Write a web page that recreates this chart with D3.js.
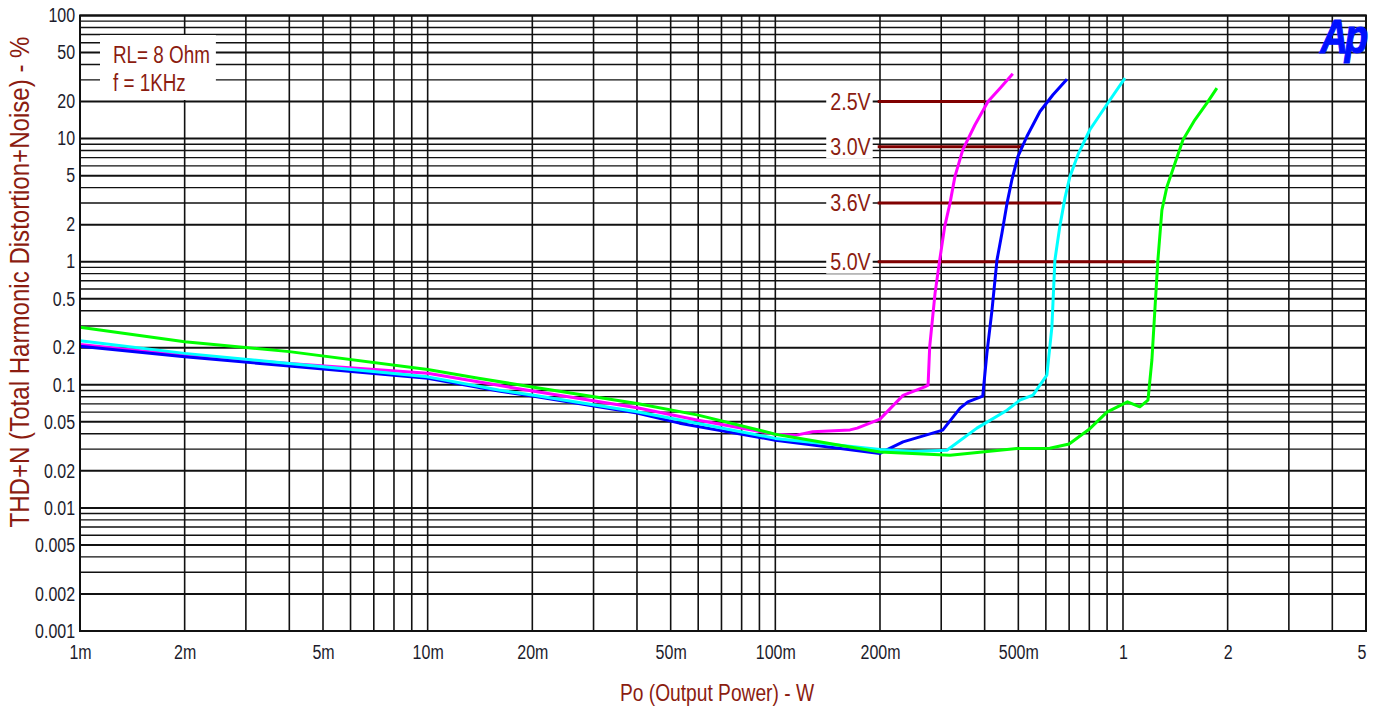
<!DOCTYPE html>
<html>
<head>
<meta charset="utf-8">
<script src="https://cdn.jsdelivr.net/npm/d3@7"></script>
<style>
  body { margin: 0; background: #fff; }
  svg { display: block; font-family: "Liberation Sans", Arial, sans-serif; }
</style>
</head>
<body>
<svg id="chart" width="1378" height="707"></svg>
<script>
// tick labels
const xTickVals = [0.001, 0.002, 0.005, 0.01, 0.02, 0.05, 0.1, 0.2, 0.5, 1, 2, 5];
const xTickLabels = ["1m", "2m", "5m", "10m", "20m", "50m", "100m", "200m", "500m", "1", "2", "5"];
const yTickVals = [100, 50, 20, 10, 5, 2, 1, 0.5, 0.2, 0.1, 0.05, 0.02, 0.01, 0.005, 0.002, 0.001];
const yTickLabels = ["100", "50", "20", "10", "5", "2", "1", "0.5", "0.2", "0.1", "0.05", "0.02", "0.01", "0.005", "0.002", "0.001"];

// supply voltages and their marker lines
const supplyLabels = ["2.5V", "3.0V", "3.6V", "5.0V"];
const supplyColors = ["#ff00ff", "#0000ff", "#00ffff", "#00ff00"];
const markerThd = [20, 8.6, 3, 1];
const markerStart = 0.197;
const markerEnd = [0.401, 0.515, 0.663, 1.235];

// curves (Po in W, THD+N in %)
const po25 = [0.001, 0.002, 0.004, 0.01, 0.016, 0.02, 0.04, 0.06, 0.1, 0.115, 0.128, 0.164, 0.172, 0.2, 0.233, 0.269, 0.275, 0.278, 0.288, 0.297, 0.307, 0.318, 0.3285, 0.346, 0.375, 0.409, 0.443, 0.482];
const thd25 = [0.213, 0.174, 0.149, 0.124, 0.099, 0.089, 0.065, 0.0516, 0.0397, 0.039, 0.0415, 0.043, 0.0445, 0.0526, 0.082, 0.0963, 0.0995, 0.204, 0.553, 1.03, 1.93, 2.99, 4.91, 8.09, 12.9, 20.0, 25.7, 33.6];

const po30 = [0.001, 0.002, 0.004, 0.01, 0.016, 0.02, 0.04, 0.053, 0.1, 0.2, 0.214, 0.233, 0.303, 0.34, 0.358, 0.395, 0.406, 0.42, 0.434, 0.4485, 0.464, 0.479, 0.4985, 0.529, 0.577, 0.629, 0.69];
const thd30 = [0.206, 0.169, 0.142, 0.113, 0.089, 0.081, 0.059, 0.0488, 0.0355, 0.0277, 0.0306, 0.0344, 0.0428, 0.0647, 0.0727, 0.0809, 0.18, 0.405, 1.03, 1.70, 2.99, 4.61, 7.14, 10.4, 16.6, 22.7, 30.4];

const po36 = [0.001, 0.002, 0.004, 0.01, 0.016, 0.02, 0.04, 0.06, 0.1, 0.2, 0.25, 0.3115, 0.38, 0.464, 0.505, 0.551, 0.604, 0.6245, 0.637, 0.658, 0.681, 0.7035, 0.742, 0.803, 0.917, 1.013];
const thd36 = [0.228, 0.180, 0.149, 0.116, 0.0906, 0.0825, 0.0603, 0.0485, 0.0367, 0.0298, 0.0287, 0.0294, 0.0445, 0.0622, 0.0751, 0.0825, 0.120, 0.296, 1.03, 1.93, 3.3, 4.91, 7.4, 11.8, 20.6, 31];

const po50 = [0.001, 0.002, 0.004, 0.01, 0.014, 0.02, 0.04, 0.06, 0.1, 0.164, 0.2, 0.318, 0.495, 0.616, 0.70, 0.803, 0.899, 1.03, 1.118, 1.18, 1.211, 1.235, 1.26, 1.294, 1.338, 1.411, 1.487, 1.61, 1.743, 1.862];
const thd50 = [0.293, 0.224, 0.186, 0.133, 0.113, 0.096, 0.0706, 0.0567, 0.0397, 0.0313, 0.0285, 0.0268, 0.0304, 0.0305, 0.033, 0.044, 0.060, 0.0727, 0.0662, 0.0751, 0.159, 0.405, 1.03, 2.63, 4.07, 6.31, 9.76, 14.2, 19.4, 25.7];

const series = [
  {po: po25, thd: thd25},
  {po: po30, thd: thd30},
  {po: po36, thd: thd36},
  {po: po50, thd: thd50}
];

const svg = d3.select("#chart");
const plotL = 80, plotR = 1366, plotT = 15.5, plotB = 631;
const sx = 0.82; // narrow font look
const labelRed = "#8b1c10";
const tickColor = "#1c1c2c";

const x = d3.scaleLog().domain([0.001, 5]).range([plotL, plotR]);
const y = d3.scaleLog().domain([0.001, 100]).range([plotB, plotT]);

const isMajor = (vals, d) => vals.some(v => Math.abs(Math.log10(v) - Math.log10(d)) < 1e-6);

// grid
const grid = svg.append("g");
grid.selectAll(".vg").data(x.ticks()).enter().append("line")
  .attr("x1", d => x(d)).attr("x2", d => x(d))
  .attr("y1", plotT).attr("y2", plotB)
  .attr("stroke", "#111").attr("stroke-width", 1.6);
grid.selectAll(".hg").data(y.ticks()).enter().append("line")
  .attr("x1", plotL).attr("x2", plotR)
  .attr("y1", d => y(d)).attr("y2", d => y(d))
  .attr("stroke", "#111")
  .attr("stroke-width", d => isMajor(yTickVals, d) ? 2 : 1.4);

function narrowText(g, tx, ty, str, size, anchor, scale) {
  return g.append("text")
    .attr("transform", `translate(${tx},${ty}) scale(${scale},1)`)
    .attr("text-anchor", anchor)
    .style("font-size", size + "px")
    .text(str);
}

// RL / f note box
const note = svg.append("g");
const noteBox = note.append("rect").attr("fill", "#fff");
const t1 = narrowText(note, 113, 63, "RL= 8 Ohm", 23, "start", sx).attr("fill", labelRed);
const t2 = narrowText(note, 113, 90.5, "f = 1KHz", 23, "start", sx).attr("fill", labelRed);
const noteW = Math.max(t1.node().getComputedTextLength(), t2.node().getComputedTextLength()) * sx;
noteBox.attr("x", 100).attr("y", 35).attr("width", 113 - 100 + noteW + 6).attr("height", 65);

// supply labels and marker lines
const marks = svg.append("g");
supplyLabels.forEach((lab, i) => {
  const cy = y(markerThd[i]);
  const tx = x(markerStart) - 7;
  const box = marks.append("rect").attr("fill", "#fff");
  const t = narrowText(marks, tx, cy + 8.5, lab, 24, "end", sx).attr("fill", labelRed);
  const w = t.node().getComputedTextLength() * sx;
  box.attr("x", tx - w - 4).attr("y", cy - 12).attr("width", w + 6).attr("height", 24);
  marks.append("line")
    .attr("x1", x(markerStart)).attr("x2", x(markerEnd[i]))
    .attr("y1", cy).attr("y2", cy)
    .attr("stroke", "#800000").attr("stroke-width", 3);
});

// curves
const line = d3.line().x(d => x(d[0])).y(d => y(d[1]));
series.forEach((s, i) => {
  svg.append("path")
    .datum(s.po.map((p, k) => [p, s.thd[k]]))
    .attr("d", line)
    .attr("fill", "none")
    .attr("stroke", supplyColors[i])
    .attr("stroke-width", 3)
    .attr("stroke-linejoin", "round");
});

// frame
svg.append("rect")
  .attr("x", plotL).attr("y", plotT)
  .attr("width", plotR - plotL).attr("height", plotB - plotT)
  .attr("fill", "none").attr("stroke", "#111").attr("stroke-width", 2);

// axes
const yAxis = svg.append("g")
  .attr("transform", `translate(${plotL},0)`)
  .call(d3.axisLeft(y).tickValues(yTickVals).tickFormat((d, i) => yTickLabels[i]).tickSize(0).tickPadding(6));
const xAxis = svg.append("g")
  .attr("transform", `translate(0,${plotB})`)
  .call(d3.axisBottom(x).tickValues(xTickVals).tickFormat((d, i) => xTickLabels[i]).tickSize(0).tickPadding(14));
[yAxis, xAxis].forEach(a => {
  a.select(".domain").remove();
  a.selectAll("text")
    .attr("transform", `scale(${sx},1)`)
    .attr("fill", tickColor)
    .style("font-size", "19.5px")
    .style("font-family", "'Liberation Sans', Arial, sans-serif");
});
xAxis.selectAll(".tick:last-of-type text").attr("text-anchor", "end");

// axis titles
narrowText(svg, (plotL + plotR) / 2 - 6, 701, "Po (Output Power) - W", 24, "middle", 0.8).attr("fill", labelRed);
svg.append("text")
  .attr("transform", "translate(29,282) rotate(-90) scale(0.86,1)")
  .attr("text-anchor", "middle")
  .attr("fill", labelRed)
  .style("font-size", "28px")
  .text("THD+N (Total Harmonic Distortion+Noise) - %");

// Ap logo
svg.append("text")
  .attr("transform", `translate(${plotR - 1},53) scale(0.8,1)`)
  .attr("text-anchor", "end")
  .attr("fill", "#0010ff")
  .attr("stroke", "#0010ff")
  .attr("stroke-width", 1.2)
  .style("font-size", "48px")
  .style("font-weight", "bold")
  .style("font-style", "italic")
  .style("letter-spacing", "-4px")
  .text("Ap");
</script>
</body>
</html>
